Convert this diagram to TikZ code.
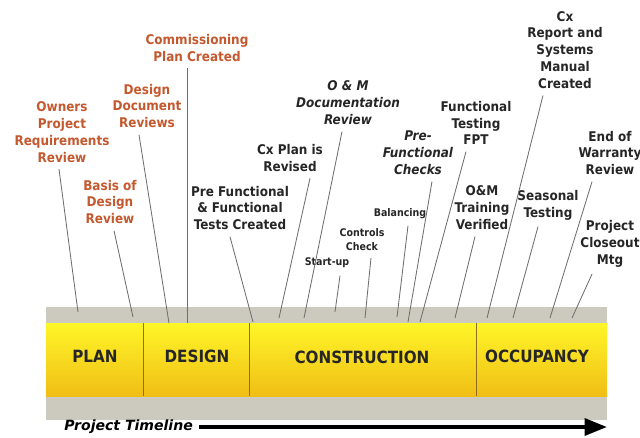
\documentclass[tikz,border=0pt]{standalone}
\usepackage{fontspec}
\setmainfont{DejaVu Sans Condensed}
\newfontfamily\widefont{DejaVu Sans}
\usepackage{tikz}
\usetikzlibrary{calc}
\usetikzlibrary{arrows.meta}
\definecolor{cxorange}{RGB}{196,88,46}
\definecolor{bandgray}{RGB}{204,202,191}
\definecolor{phasetop}{RGB}{255,246,40}
\definecolor{phasebot}{RGB}{240,190,22}
\definecolor{divider}{RGB}{140,110,30}
\definecolor{leadgray}{RGB}{110,110,110}
\tikzset{
  lbl/.style={align=center, inner sep=1pt, font=\fontsize{9.5}{12}\selectfont\bfseries, text=black!85},
  lblit/.style={lbl, font=\fontsize{9.5}{12}\selectfont\bfseries\itshape},
  lblsm/.style={lbl, font=\fontsize{7.5}{10}\selectfont\bfseries},
  cx/.style={lbl, text=cxorange},
  leader/.style={leadgray, line width=0.6pt},
  phase/.style={font=\fontsize{12}{14}\selectfont\bfseries, text=black!85}
}

\begin{document}
\begin{tikzpicture}[x=0.025cm, y=-0.025cm]
  \useasboundingbox (0,0) rectangle (640,437);
  % timeline band
  \fill[bandgray] (46,307) rectangle (607,420);
  \shade[top color=phasetop, bottom color=phasebot] (46,323) rectangle (607,396);
  \draw[divider, line width=0.7pt] (143,323) -- (143,396);
  \draw[divider, line width=0.7pt] (249,323) -- (249,396);
  \draw[divider, line width=0.7pt] (476,323) -- (476,396);
  \node[phase] (plan) at (95,356) {PLAN};
  \node[phase] (design) at (197,356) {DESIGN};
  \node[phase] (constr) at (362,357) {CONSTRUCTION};
  \node[phase] (occup) at (537,356) {OCCUPANCY};

  % project timeline arrow
  \node[anchor=west, inner sep=0pt, font=\widefont\fontsize{10}{12}\selectfont\bfseries\itshape] (tl) at (64,427) {Project Timeline};
  \coordinate (tlend) at (607,427);
  \draw[line width=2.8pt, -{Triangle[length=16pt, width=12pt]}] ([xshift=4pt]tl.east) -- (tlend);

  % labels
  \node[cx] (opr) at (62,132) {Owners\\Project\\Requirements\\Review};
  \node[cx] (bod) at (110,202) {Basis of\\Design\\Review};
  \node[cx] (ddr) at (147,106) {Design\\Document\\Reviews};
  \node[cx] (cpc) at (197,48) {Commissioning\\Plan Created};
  \node[lbl] (pft) at (240,208) {Pre Functional\\\& Functional\\Tests Created};
  \node[lbl] (cxr) at (290,158) {Cx Plan is\\Revised};
  \node[lblit] (omd) at (348,103) {O \& M\\Documentation\\Review};
  \node[lblsm] (stu) at (327,263) {Start-up};
  \node[lblsm] (cck) at (362,240) {Controls\\Check};
  \node[lblsm] (bal) at (400,214) {Balancing};
  \node[lblit] (pfc) at (418,153) {Pre-\\Functional\\Checks};
  \node[lbl] (fpt) at (476,123) {Functional\\Testing\\FPT};
  \node[lbl] (omt) at (482,208) {O\&M\\Training\\Verified};
  \node[lbl] (cxm) at (565,50) {Cx\\Report and\\Systems\\Manual\\Created};
  \node[lbl] (sst) at (548,205) {Seasonal\\Testing};
  \node[lbl] (ewr) at (610,153) {End of\\Warranty\\Review};
  \node[lbl] (pcm) at (610,244) {Project\\Closeout\\Mtg};

  % leader ends on the band
  \coordinate (e-opr) at (78,312);
  \coordinate (e-bod) at (133,317);
  \coordinate (e-ddr) at (169,323);
  \coordinate (e-cpc) at (187,323);
  \coordinate (e-pft) at (253,322);
  \coordinate (e-cxr) at (279,318);
  \coordinate (e-omd) at (304,318);
  \coordinate (e-stu) at (335,312);
  \coordinate (e-cck) at (365,318);
  \coordinate (e-bal) at (397,317);
  \coordinate (e-pfc) at (408,322);
  \coordinate (e-fpt) at (420,322);
  \coordinate (e-omt) at (455,318);
  \coordinate (e-cxm) at (487,318);
  \coordinate (e-sst) at (513,318);
  \coordinate (e-ewr) at (550,318);
  \coordinate (e-pcm) at (572,318);

  % leaders
  \draw[leader] ($(opr.south)+(-3,5)$) -- (e-opr);
  \draw[leader] ($(bod.south)+(4,5)$) -- (e-bod);
  \draw[leader] ($(ddr.south)+(-8,5)$) -- (e-ddr);
  \draw[leader] ($(cpc.south)+(-10,5)$) -- (e-cpc);
  \draw[leader] ($(pft.south)+(-10,5)$) -- (e-pft);
  \draw[leader] ($(cxr.south)+(20,5)$) -- (e-cxr);
  \draw[leader] ($(omd.south)+(-6,5)$) -- (e-omd);
  \draw[leader] ($(stu.south)+(13,6)$) -- (e-stu);
  \draw[leader] ($(cck.south)+(9,5)$) -- (e-cck);
  \draw[leader] ($(bal.south)+(8,5)$) -- (e-bal);
  \draw[leader] ($(pfc.south)+(14,5)$) -- (e-pfc);
  \draw[leader] ($(fpt.south)+(-10,5)$) -- (e-fpt);
  \draw[leader] ($(omt.south)+(-7,5)$) -- (e-omt);
  \draw[leader] ($(cxm.south)+(-22,5)$) -- (e-cxm);
  \draw[leader] ($(sst.south)+(-10,5)$) -- (e-sst);
  \draw[leader] ($(ewr.south)+(-18,5)$) -- (e-ewr);
  \draw[leader] ($(pcm.south)+(-18,5)$) -- (e-pcm);
\end{tikzpicture}
\end{document}
